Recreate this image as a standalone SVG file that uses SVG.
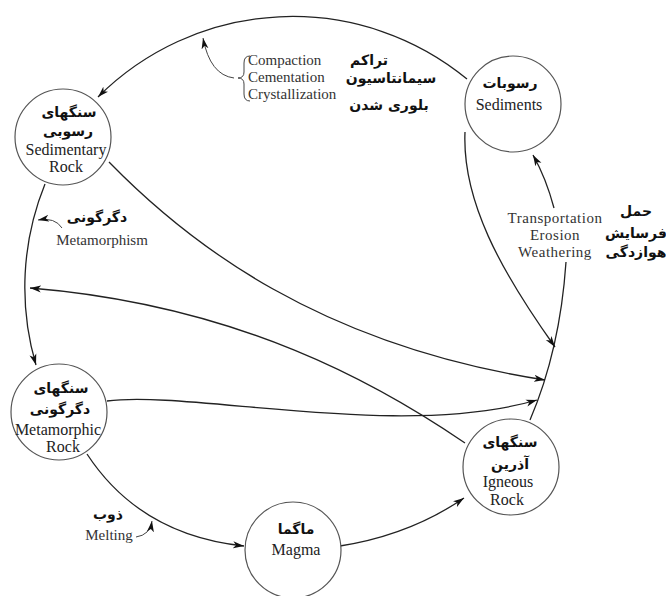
<svg xmlns="http://www.w3.org/2000/svg" width="666" height="596" viewBox="0 0 666 596">
<style>
.node{fill:#fff;stroke:#555;stroke-width:1.2}
.en{font-family:"Liberation Serif",serif;font-size:16px;fill:#222;text-anchor:middle}
.lab{font-family:"Liberation Serif",serif;font-size:15px;fill:#333}
.fa{font-family:"DejaVu Sans",sans-serif;font-weight:bold;font-size:14px;fill:#111;text-anchor:middle}
.c{fill:none;stroke:#222;stroke-width:1.3}
.t{fill:none;stroke:#444;stroke-width:1}
</style>
<defs>
<marker id="ah" markerUnits="userSpaceOnUse" markerWidth="12" markerHeight="8" refX="11" refY="4" orient="auto">
<path d="M0,0.5 L11,4 L0,7.5 L3,4 z" fill="#111"/>
</marker>
</defs>
<rect width="666" height="596" fill="#fff"/>
<g id="connectors">
<path class="c" d="M467,79 A275,275 0 0 0 98,97" marker-end="url(#ah)"/>
<path class="c" d="M45,184 A275,275 0 0 0 36,365" marker-end="url(#ah)"/>
<path class="c" d="M87,454 Q140,535 244,546" marker-end="url(#ah)"/>
<path class="c" d="M340,546 Q410,535 464,498" marker-end="url(#ah)"/>
<path class="c" d="M530,420 Q560,350 566,262"/>
<path class="c" d="M554,208 Q546,178 533,155" marker-end="url(#ah)"/>
<path class="c" d="M465,132 C462,200 500,270 555,347" marker-end="url(#ah)"/>
<path class="c" d="M109,162 C190,245 320,345 545,380" marker-end="url(#ah)"/>
<path class="c" d="M465,443 C380,385 240,305 30,288" marker-end="url(#ah)"/>
<path class="c" d="M107,401 C190,390 400,440 537,400" marker-end="url(#ah)"/>
<path class="t" d="M234,78 Q210,75 203,38" marker-end="url(#ah)"/>
<path class="t" d="M62,228 Q55,217 38,220" marker-end="url(#ah)"/>
<path class="t" d="M136,537 Q150,535 152,521" marker-end="url(#ah)"/>
</g>
<g id="sedimentary">
<circle class="node" cx="63" cy="137" r="48"/>
<text class="fa" x="69" y="117">سنگهای</text>
<text class="fa" x="68" y="136">رسوبی</text>
<text class="en" x="66" y="155" font-size="15">Sedimentary</text>
<text class="en" x="66" y="172">Rock</text>
</g>
<g id="sediments">
<circle class="node" cx="513" cy="104" r="48"/>
<text class="fa" x="510" y="88">رسوبات</text>
<text class="en" x="509" y="110">Sediments</text>
</g>
<g id="metamorphic">
<circle class="node" cx="59" cy="412" r="48"/>
<text class="fa" x="61" y="393">سنگهای</text>
<text class="fa" x="60" y="414">دگرگونی</text>
<text class="en" x="58" y="435" font-size="15.5">Metamorphic</text>
<text class="en" x="63" y="452">Rock</text>
</g>
<g id="igneous">
<circle class="node" cx="511" cy="467" r="48"/>
<text class="fa" x="510" y="447">سنگهای</text>
<text class="fa" x="510" y="469">آذرین</text>
<text class="en" x="508" y="487">Igneous</text>
<text class="en" x="507" y="505">Rock</text>
</g>
<g id="magma">
<circle class="node" cx="293" cy="550" r="48"/>
<text class="fa" x="296" y="534">ماگما</text>
<text class="en" x="296" y="555">Magma</text>
</g>
<g id="labels">
<path class="t" d="M250,56 Q244,56 244,63 L244,72 Q244,78 238,78 Q244,78 244,84 L244,94 Q244,101 250,101"/>
<text class="lab" x="248" y="65" font-size="16">Compaction</text>
<text class="lab" x="248" y="82" font-size="16">Cementation</text>
<text class="lab" x="248" y="99" font-size="16">Crystallization</text>
<text class="fa" x="369" y="65">تراکم</text>
<text class="fa" x="391" y="83">سیمانتاسیون</text>
<text class="fa" x="389" y="110">بلوری شدن</text>
<text class="lab" x="555" y="223" text-anchor="middle" letter-spacing="0.5">Transportation</text>
<text class="lab" x="555" y="240" text-anchor="middle" letter-spacing="0.5">Erosion</text>
<text class="lab" x="555" y="257" text-anchor="middle" letter-spacing="0.5">Weathering</text>
<text class="fa" x="636" y="216" font-size="13">حمل</text>
<text class="fa" x="636" y="238" font-size="13">فرسایش</text>
<text class="fa" x="636" y="257" font-size="13">هوازدگی</text>
<text class="fa" x="97" y="222" font-size="13">دگرگونی</text>
<text class="lab" x="102" y="245" text-anchor="middle">Metamorphism</text>
<text class="fa" x="108" y="519" font-size="13">ذوب</text>
<text class="lab" x="109" y="540" text-anchor="middle">Melting</text>
</g>
</svg>
